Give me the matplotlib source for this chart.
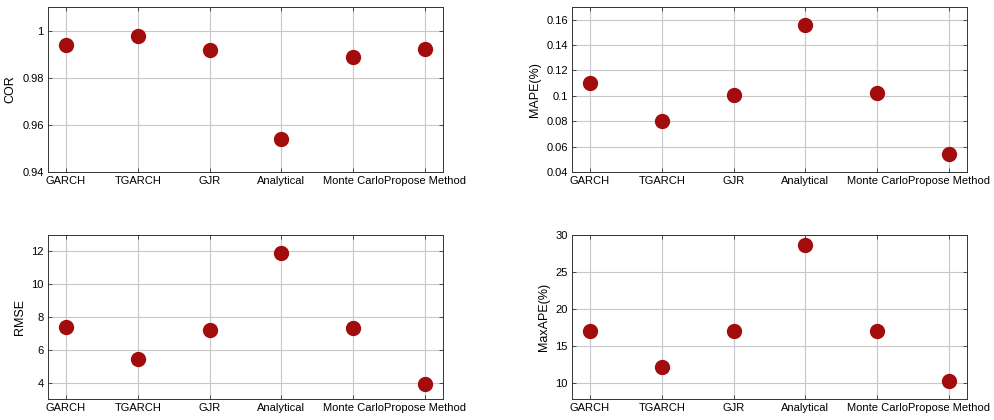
import matplotlib
matplotlib.use("Agg")
import matplotlib.pyplot as plt

plt.rcParams['font.family'] = ['Liberation Sans', 'DejaVu Sans']

methods = ["GARCH", "TGARCH", "GJR", "Analytical", "Monte Carlo", "Propose Method"]
cor = [0.9937, 0.9978, 0.9918, 0.9542, 0.9887, 0.9923]
mape = [0.110, 0.080, 0.101, 0.156, 0.102, 0.054]
rmse = [7.40, 5.45, 7.20, 11.90, 7.30, 3.90]
maxape = [17.0, 12.2, 17.0, 28.7, 17.0, 10.3]

panels = [
    (cor, "COR", (0.94, 1.01), [0.94, 0.96, 0.98, 1.0], ["0.94", "0.96", "0.98", "1"],
     [48, 7, 443, 172]),
    (mape, "MAPE(%)", (0.04, 0.17), [0.04, 0.06, 0.08, 0.10, 0.12, 0.14, 0.16],
     ["0.04", "0.06", "0.08", "0.1", "0.12", "0.14", "0.16"], [572, 7, 967, 172]),
    (rmse, "RMSE", (3, 13), [4, 6, 8, 10, 12], ["4", "6", "8", "10", "12"],
     [48, 235, 443, 399]),
    (maxape, "MaxAPE(%)", (7.9, 30), [10, 15, 20, 25, 30], ["10", "15", "20", "25", "30"],
     [572, 235, 967, 399]),
]

W, H = 995, 420
fig = plt.figure(figsize=(W / 100, H / 100), dpi=100)
x = list(range(1, len(methods) + 1))
for vals, label, ylim, yt, ytl, (l, t, r, b) in panels:
    ax = fig.add_axes([l / W, 1 - b / H, (r - l) / W, (b - t) / H])
    ax.set_axisbelow(True)
    ax.grid(True, color="#c8c8c8", linewidth=0.8)
    ax.plot(x, vals, linestyle="none", marker="o", markersize=10,
            color="#a30c0c", markeredgecolor="#a30c0c")
    ax.set_xlim(0.75, 6.25)
    ax.set_ylim(*ylim)
    ax.set_xticks(x)
    ax.set_xticklabels(methods, fontsize=8)
    ax.set_yticks(yt)
    ax.set_yticklabels(ytl, fontsize=8)
    ax.set_ylabel(label, fontsize=9, labelpad=4)
    ax.tick_params(direction="in", length=3, width=0.6, color="#333333",
                   top=True, right=True, pad=3)
    for s in ax.spines.values():
        s.set_color("#333333")
        s.set_linewidth(0.7)

fig.savefig("out.png", dpi=100)
